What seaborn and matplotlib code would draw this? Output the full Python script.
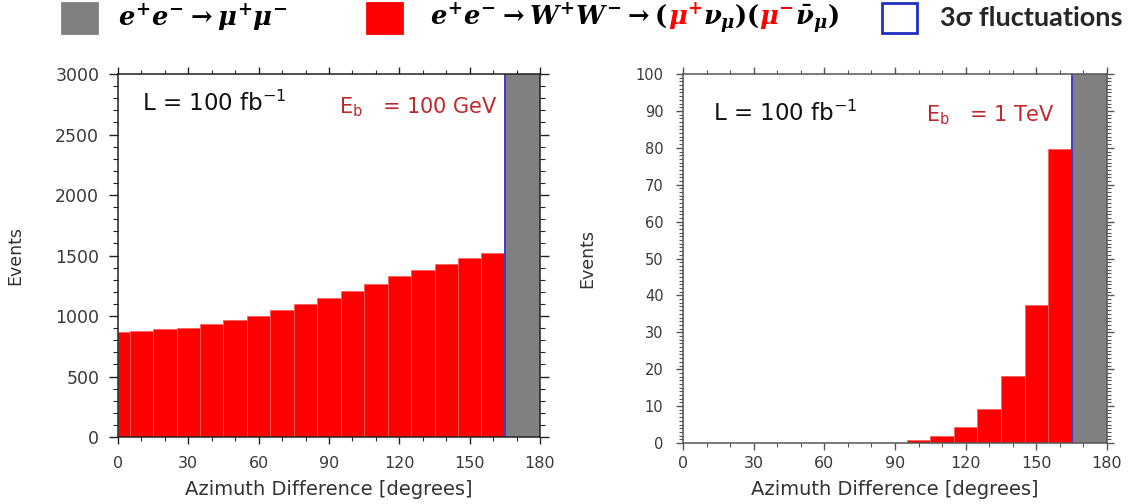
import matplotlib
matplotlib.use("Agg")
import matplotlib.pyplot as plt
import seaborn as sns
import numpy as np
from matplotlib.patches import Rectangle
from matplotlib.offsetbox import TextArea, HPacker, AnchoredOffsetbox
from matplotlib.ticker import MultipleLocator

# bin edges in degrees (first bin is half width)
bin_edges = [0, 5, 15, 25, 35, 45, 55, 65, 75, 85, 95, 105, 115, 125, 135, 145, 155, 165]
ww_100gev = [866, 878, 894, 902, 932, 965, 998, 1048, 1097, 1150, 1208, 1262,
             1332, 1384, 1433, 1477, 1521]
ww_1tev = [0, 0, 0, 0, 0, 0, 0, 0, 0, 0, 0.7, 1.8, 4.3, 9.1, 18.2, 37.3, 79.7]
mumu_edges = [165, 180]
mumu_100gev = [5000]   # off scale
mumu_1tev = [500]      # off scale
sigma3_cut = 165
panel_energy = ["100 GeV", "1 TeV"]

sns.set_style("ticks")
plt.rcParams["font.family"] = ["DejaVu Sans"]

fig = plt.figure(figsize=(11.3, 5.04), dpi=100)
ax1 = fig.add_axes([0.1044, 0.1329, 0.3735, 0.7202])
ax2 = fig.add_axes([0.6044, 0.121, 0.3752, 0.7321])

centers = (np.array(bin_edges[:-1]) + np.array(bin_edges[1:])) / 2
mumu_center = [(mumu_edges[0] + mumu_edges[1]) / 2]

panels = [
    dict(ax=ax1, ww=ww_100gev, mumu=mumu_100gev, ymax=3000, ymaj=500, ymin=100,
         ysize=12.5, ypad=7, ylen=(6.5, 3.5), xpad=8.5, axcol="#222222", ylab_x=-0.222,
         L_pos=(0.057, 0.92), E_pos=(0.9, 0.909), energy=panel_energy[0]),
    dict(ax=ax2, ww=ww_1tev, mumu=mumu_1tev, ymax=100, ymaj=10, ymin=1,
         ysize=10.5, ypad=9, ylen=(5, 3), xpad=4.5, axcol="#555555", ylab_x=-0.205,
         L_pos=(0.071, 0.894), E_pos=(0.877, 0.889), energy=panel_energy[1]),
]

for p in panels:
    ax = p["ax"]
    sns.histplot(x=centers, weights=p["ww"], bins=bin_edges, ax=ax, color="#ff0000",
                 alpha=1, edgecolor="#ff6060", linewidth=0.6)
    sns.histplot(x=mumu_center, weights=p["mumu"], bins=mumu_edges, ax=ax, color="#808080",
                 alpha=1, edgecolor="#808080", linewidth=0.5)
    ax.axvline(sigma3_cut, color="#3c3cc8", lw=1.4)
    ax.set_xlim(0, 180)
    ax.set_ylim(0, p["ymax"])
    ax.xaxis.set_major_locator(MultipleLocator(30))
    ax.xaxis.set_minor_locator(MultipleLocator(10))
    ax.yaxis.set_major_locator(MultipleLocator(p["ymaj"]))
    ax.yaxis.set_minor_locator(MultipleLocator(p["ymin"]))
    ax.tick_params(which="both", direction="out", top=True, right=True,
                   colors=p["axcol"], labelcolor="#3a3a3a")
    ax.tick_params(axis="x", which="major", length=5, width=1, labelsize=11.5, pad=p["xpad"])
    ax.tick_params(axis="x", which="minor", length=3, width=0.8)
    ax.tick_params(axis="y", which="major", length=p["ylen"][0], width=1,
                   labelsize=p["ysize"], pad=p["ypad"])
    ax.tick_params(axis="y", which="minor", length=p["ylen"][1], width=0.8)
    for sp in ax.spines.values():
        sp.set_visible(True)
        sp.set_color(p["axcol"])
        sp.set_linewidth(1.1)
    ax.set_xlabel("Azimuth Difference [degrees]", fontsize=14, color="#333333", labelpad=6.5)
    ax.set_ylabel("Events", fontsize=12.5, color="#333333")
    ax.yaxis.set_label_coords(p["ylab_x"], 0.5)
    ax.text(p["L_pos"][0], p["L_pos"][1], r"L = 100 fb$^{-1}$", transform=ax.transAxes,
            fontsize=16.5, color="#111111", math_fontfamily="dejavusans", va="center")
    ax.text(p["E_pos"][0], p["E_pos"][1], r"E$_{\rm b}$   = " + p["energy"],
            transform=ax.transAxes, fontsize=15, color="#c0282c", ha="right", va="center",
            math_fontfamily="dejavusans")

# legend across the top
W, H = 1130, 504
for x0, fc, ec in [(62, "#808080", "#808080"), (367, "#ff0000", "#ff0000"),
                   (882, "none", "#1f2fc0")]:
    fig.add_artist(Rectangle((x0 / W, 1 - 33 / H), 35 / W, 30 / H, transform=fig.transFigure,
                             facecolor=fc, edgecolor=ec, lw=2))

plt.rcParams["mathtext.fontset"] = "custom"
plt.rcParams["mathtext.it"] = "DejaVu Serif:italic:bold"
plt.rcParams["mathtext.rm"] = "DejaVu Serif:bold"
plt.rcParams["mathtext.bf"] = "DejaVu Serif:bold"

def mt(s, c="black"):
    return TextArea(s, textprops=dict(fontsize=18.5, color=c, math_fontfamily="custom"))

legend_items = [
    (118, [mt(r"$e^{+}e^{-}\rightarrow\mu^{+}\mu^{-}$")]),
    (430, [mt(r"$e^{+}e^{-}\rightarrow W^{+}W^{-}\rightarrow($"), mt(r"$\mu^{+}$", "red"),
           mt(r"$\nu_{\mu})($"), mt(r"$\mu^{-}$", "red"), mt(r"$\bar{\nu}_{\mu})$")]),
    (940, [TextArea("3σ fluctuations", textprops=dict(fontsize=19.5, fontweight="bold",
                                                       family="Lato"))]),
]
for x0, parts in legend_items:
    box = HPacker(children=parts, sep=0, pad=0, align="baseline")
    anc = AnchoredOffsetbox(loc="center left", child=box, pad=0, borderpad=0, frameon=False,
                            bbox_to_anchor=(x0 / W, 1 - 18 / H), bbox_transform=fig.transFigure)
    fig.add_artist(anc)

fig.savefig("out.png", dpi=100)
